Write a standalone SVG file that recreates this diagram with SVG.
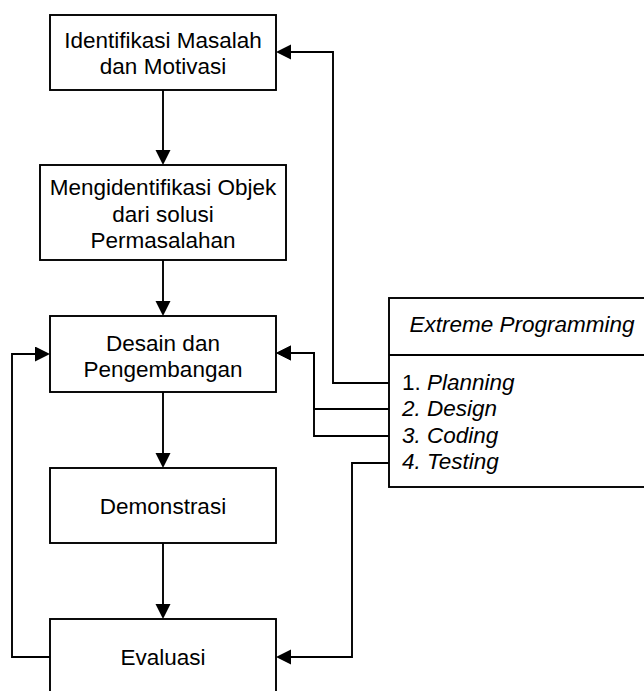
<svg xmlns="http://www.w3.org/2000/svg" width="644" height="691" viewBox="0 0 644 691">
<style>
.box{fill:#fff;stroke:#000;stroke-width:1.9}
.t{font-family:"Liberation Sans",Arial,sans-serif;font-size:22.5px;fill:#000;text-anchor:middle}
.l{font-family:"Liberation Sans",Arial,sans-serif;font-size:22.5px;fill:#000}
.i{font-style:italic}
.c{fill:none;stroke:#000;stroke-width:1.9}
</style>
<defs>
<marker id="ah" markerUnits="userSpaceOnUse" markerWidth="16" markerHeight="16" refX="0" refY="7.5" orient="auto">
<path d="M0,0 L15,7.5 L0,15 z" fill="#000"/>
</marker>
</defs>
<rect width="644" height="691" fill="#fff"/>
<g id="connectors">
<path class="c" d="M163,90 V150" marker-end="url(#ah)"/>
<path class="c" d="M163,260 V301" marker-end="url(#ah)"/>
<path class="c" d="M163,392 V453" marker-end="url(#ah)"/>
<path class="c" d="M163,543 V604" marker-end="url(#ah)"/>
<path class="c" d="M389,383 H333 V52 H291" marker-end="url(#ah)"/>
<path class="c" d="M389,409 H314 V353 H291" marker-end="url(#ah)"/>
<path class="c" d="M389,436 H314 V353 H291" marker-end="url(#ah)"/>
<path class="c" d="M389,463 H352 V657 H291" marker-end="url(#ah)"/>
<path class="c" d="M50,657 H12 V354 H35" marker-end="url(#ah)"/>
</g>
<g id="identifikasi">
<rect class="box" x="50" y="15" width="226" height="75"/>
<text class="t" x="163" y="48">Identifikasi Masalah</text>
<text class="t" x="163" y="74">dan Motivasi</text>
</g>
<g id="mengidentifikasi">
<rect class="box" x="40" y="165" width="246" height="95"/>
<text class="t" x="163" y="195">Mengidentifikasi Objek</text>
<text class="t" x="163" y="221.5">dari solusi</text>
<text class="t" x="163" y="248">Permasalahan</text>
</g>
<g id="desain">
<rect class="box" x="50" y="316" width="226" height="76"/>
<text class="t" x="163" y="350.5">Desain dan</text>
<text class="t" x="163" y="376.5">Pengembangan</text>
</g>
<g id="demonstrasi">
<rect class="box" x="50" y="468" width="226" height="75"/>
<text class="t" x="163" y="514">Demonstrasi</text>
</g>
<g id="evaluasi">
<rect class="box" x="50" y="619" width="226" height="76"/>
<text class="t" x="163" y="665">Evaluasi</text>
</g>
<g id="extreme-programming">
<rect class="box" x="389" y="298" width="270" height="189"/>
<line class="c" x1="389" y1="355" x2="660" y2="355"/>
<text class="t i" x="522" y="332">Extreme Programming</text>
<text class="l" x="402" y="390">1. <tspan class="i">Planning</tspan></text>
<text class="l i" x="402" y="416">2. Design</text>
<text class="l i" x="402" y="443">3. Coding</text>
<text class="l i" x="402" y="469">4. Testing</text>
</g>
</svg>
